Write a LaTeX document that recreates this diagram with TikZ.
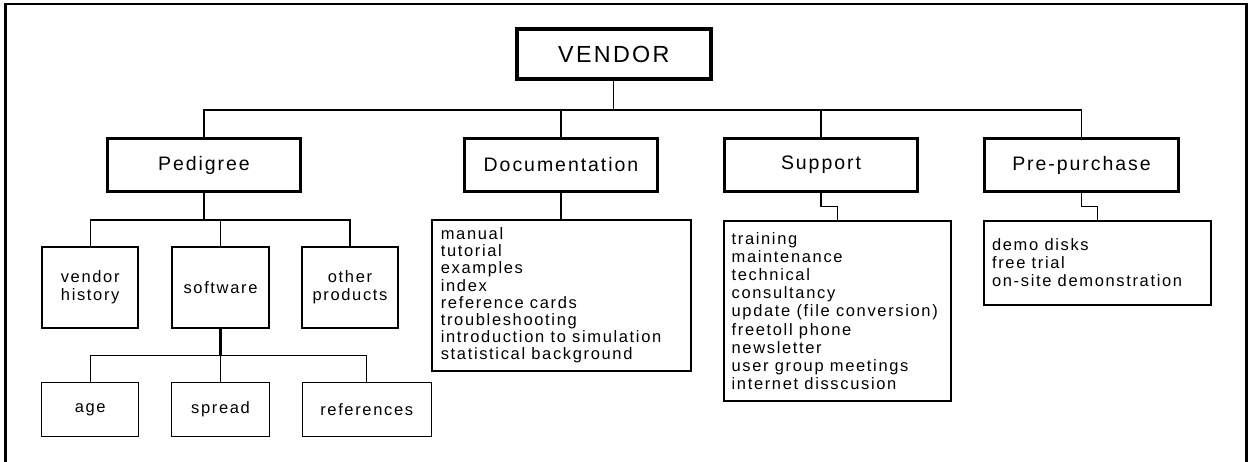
\documentclass[tikz,border=0pt]{standalone}
\usepackage{fontspec}
\setmainfont{Liberation Sans}[LetterSpace=10]
\begin{document}
\begin{tikzpicture}[x=1pt,y=-1pt,
  topbox/.style={draw, line width=4.2, minimum width=194, minimum height=50, inner sep=0,
    font=\fontsize{23.3}{26}\selectfont},
  headbox/.style={draw, line width=2.8, minimum width=193.5, minimum height=53.5, inner sep=0,
    font=\fontsize{19.5}{22}\selectfont},
  childbox/.style={draw, line width=2.2, minimum width=96.3, minimum height=81, inner sep=0,
    align=center, font=\fontsize{16.5}{17.7}\selectfont},
  leafbox/.style={draw, line width=1, minimum height=53.7, inner sep=0,
    font=\fontsize{16.5}{17.7}\selectfont},
  listbox/.style={draw, line width=1.7, inner sep=0},
  listtext/.style={anchor=west, align=left, inner sep=0},
  thin/.style={line width=1.1},
  thick/.style={line width=2.2},
]
\useasboundingbox (0,0) rectangle (1248,461);
\begin{scope}
\clip (0,0) rectangle (1248,461);
\draw[line width=2.7] (5.5,480) -- (5.5,4) -- (1246.5,4) -- (1246.5,480);
\end{scope}

\coordinate (bus) at (0,110);
\coordinate (pbus) at (0,220);
\coordinate (sbus) at (0,355.5);

\node[topbox] (vendor) at (613.8,54) {VENDOR};
\node[headbox] (ped) at (204,165) {Pedigree};
\node[headbox] (doc) at (561,165) {Documentation};
\node[headbox] (sup) at (821,165) {Support};
\node[headbox] (pre) at (1081.5,165) {Pre-purchase};

\draw[thin] (vendor.south) -- (vendor.south |- bus);
\draw[thin] (ped.north) -- (ped.north |- bus) -| (pre.north);
\draw[thin] (doc.north) -- (doc.north |- bus);
\draw[thin] (sup.north) -- (sup.north |- bus);

% Documentation list
\node[listbox, minimum width=259, minimum height=151] (doclist) at (561.5,295.5) {};
\node[listtext, font=\fontsize{16.5}{17.2}\selectfont] (doctext) at ([xshift=9.5]doclist.west)
  {manual\\tutorial\\examples\\index\\reference cards\\troubleshooting\\introduction to simulation\\statistical background};
\draw[thin] (doc.south) -- (doclist.north -| doc.south);

% Support list
\node[listbox, minimum width=227, minimum height=180] (suplist) at (837.3,310.9) {};
\node[listtext, font=\fontsize{16.5}{18.2}\selectfont] (suptext) at ([xshift=8.5]suplist.west)
  {training\\maintenance\\technical\\consultancy\\update (file conversion)\\freetoll phone\\newsletter\\user group meetings\\internet disscusion};
\draw[thin] (sup.south) -- ++(0,13) -| (suplist.north);

% Pre-purchase list
\node[listbox, minimum width=226.5, minimum height=84] (prelist) at (1097.5,262.8) {};
\node[listtext, font=\fontsize{16.5}{17.9}\selectfont] (pretext) at ([xshift=8.5]prelist.west)
  {demo disks\\free trial\\on-site demonstration};
\draw[thin] (pre.south) -- ++(0,13) -| (prelist.north);

% Pedigree subtree
\node[childbox] (hist) at (90.2,287.5) {vendor\\history};
\node[childbox] (soft) at (220.5,287.5) {software};
\node[childbox] (other) at (350,287.5) {other\\products};
\draw[thick] (ped.south) -- (ped.south |- pbus) -- (soft.north |- pbus);
\draw[thin] (hist.north) -- (hist.north |- pbus) -- (other.north |- pbus) -- (other.north);
\draw[thin] (soft.north) -- (soft.north |- pbus);

\node[leafbox, minimum width=97.3] (age) at (90.2,409.3) {age};
\node[leafbox, minimum width=97.3] (spread) at (220.5,409.3) {spread};
\node[leafbox, minimum width=129] (refs) at (366.7,409.3) {references};
\draw[thick] (soft.south) -- (soft.south |- sbus);
\draw[thin] (age.north) -- (age.north |- sbus) -| (refs.north);
\draw[thin] (spread.north) -- (spread.north |- sbus);
\end{tikzpicture}
\end{document}
